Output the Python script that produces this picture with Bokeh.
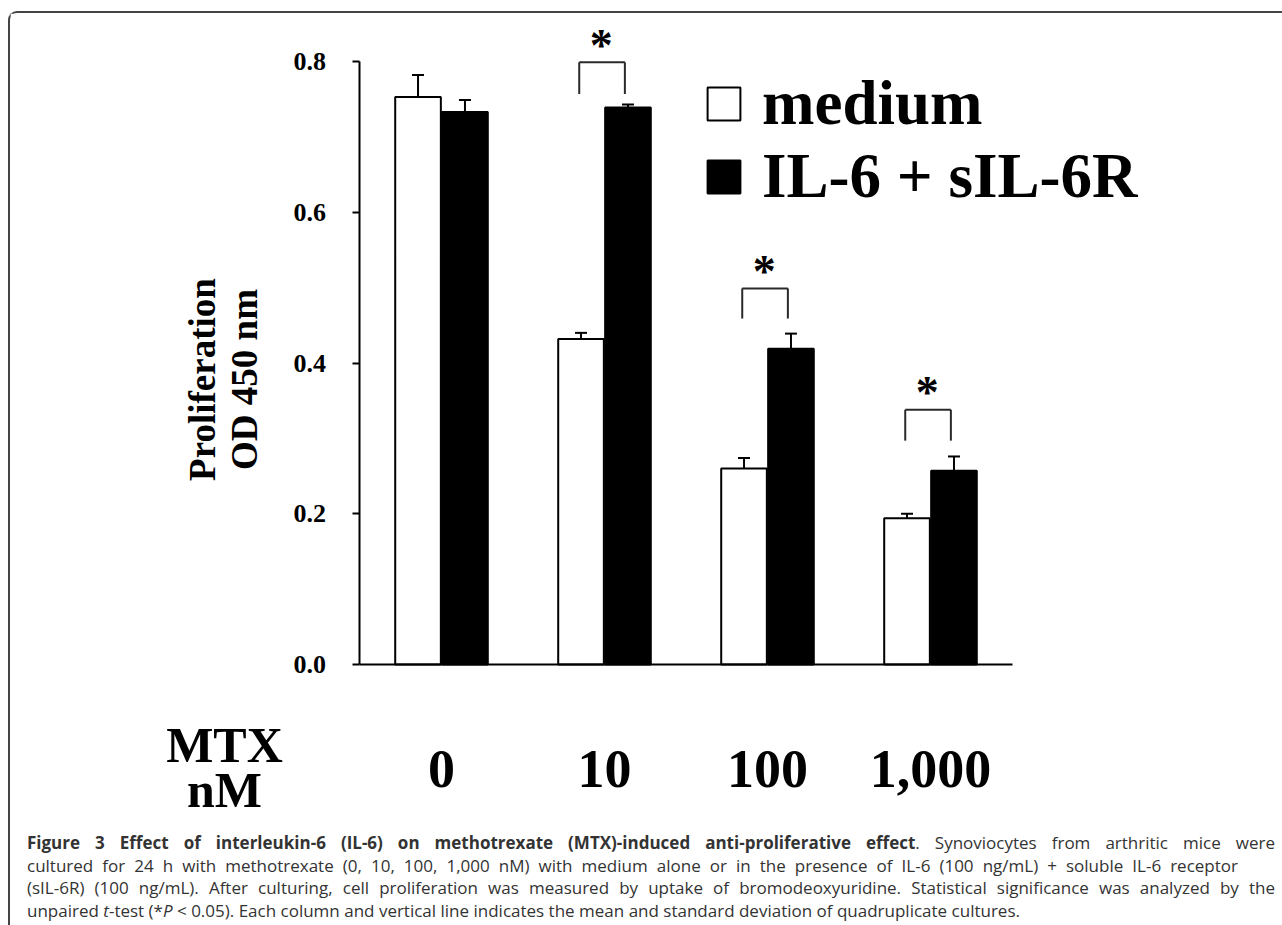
import math
from bokeh.plotting import figure
from bokeh.models import (ColumnDataSource, FactorRange, Range1d, FixedTicker, PrintfTickFormatter,
                          Whisker, TeeHead, Legend, LegendItem, Label, Div, GlobalInlineStyleSheet)
from bokeh.transform import dodge
from bokeh.layouts import column
from bokeh.core.properties import value
from bokeh.embed import file_html
from bokeh.resources import INLINE

# ---------------- data ----------------
categories = ["0", "10", "100", "1,000"]          # MTX concentration (nM)
medium = [0.753, 0.432, 0.260, 0.194]
medium_sd = [0.029, 0.008, 0.014, 0.006]
il6 = [0.733, 0.739, 0.419, 0.257]
il6_sd = [0.016, 0.004, 0.020, 0.019]
series_labels = ["medium", "IL-6 + sIL-6R"]
sig_categories = ["10", "100", "1,000"]
bracket_top = [0.799, 0.499, 0.338]
bracket_bottom = [0.757, 0.459, 0.297]
yticks = [0.0, 0.2, 0.4, 0.6, 0.8]

SERIF = "Liberation Serif"

src = ColumnDataSource(dict(
    cat=categories,
    medium=medium,
    medium_hi=[m + s for m, s in zip(medium, medium_sd)],
    il6=il6,
    il6_hi=[m + s for m, s in zip(il6, il6_sd)],
))
bsrc = ColumnDataSource(dict(cat=sig_categories, top=bracket_top, bottom=bracket_bottom))

p = figure(x_range=FactorRange(*categories, range_padding=1.2546, range_padding_units="absolute"),
           y_range=Range1d(-0.21625, 0.8637),
           width=1272, height=814,
           min_border_left=145, min_border_right=66, min_border_top=0, min_border_bottom=0,
           output_backend="svg", toolbar_location=None)
p.outline_line_color = None
p.xgrid.visible = False
p.ygrid.visible = False
p.background_fill_color = "white"
p.border_fill_color = "white"

half = 0.144
bw = 0.28
r_med = p.vbar(x=dodge("cat", -half, range=p.x_range), top="medium", bottom=0, width=bw,
               fill_color="white", line_color="black", line_width=2, source=src)
r_il6 = p.vbar(x=dodge("cat", half, range=p.x_range), top="il6", bottom=0, width=bw,
               fill_color="black", line_color="black", line_width=2, source=src)

for base, lo, hi in ((-half, "medium", "medium_hi"), (half, "il6", "il6_hi")):
    p.add_layout(Whisker(base=dodge("cat", base, range=p.x_range), lower=lo, upper=hi, source=src,
                         line_color="black", line_width=2, lower_head=None,
                         upper_head=TeeHead(size=12, line_width=2, line_color="black")))

# significance brackets
bl = dodge("cat", -0.155, range=p.x_range)
br = dodge("cat", 0.125, range=p.x_range)
bstyle = dict(line_color="#2a2a2a", line_width=2, source=bsrc)
p.segment(x0=bl, y0="bottom", x1=bl, y1="top", **bstyle)
p.segment(x0=br, y0="bottom", x1=br, y1="top", **bstyle)
p.segment(x0=bl, y0="top", x1=br, y1="top", **bstyle)
p.text(x=dodge("cat", -0.02, range=p.x_range), y="top", text=value("*"), source=bsrc,
       text_font=value(SERIF), text_font_style="bold", text_font_size="46px", y_offset=-17,
       text_align="center", text_baseline="alphabetic", text_color="black")

# y axis, drawn at the left edge of the first category
yax = p.yaxis[0]
yax.fixed_location = 0
yax.bounds = (0, 0.8)
yax.ticker = FixedTicker(ticks=yticks)
yax.formatter = PrintfTickFormatter(format="%.1f")
yax.major_tick_out = 7
yax.major_tick_in = 0
yax.minor_tick_out = 0
yax.minor_tick_in = 0
yax.axis_line_width = 2
yax.major_tick_line_width = 2
yax.major_label_text_font = SERIF
yax.major_label_text_font_style = "bold"
yax.major_label_text_font_size = "26px"
yax.major_label_text_color = "black"
yax.major_label_standoff = 27

# x axis along y = 0, spanning the categories
xax = p.xaxis[0]
xax.fixed_location = 0
xax.bounds = (0, len(categories))
xax.axis_line_width = 2
xax.axis_line_color = "black"
xax.major_tick_line_color = None
xax.major_tick_out = 0
xax.major_tick_in = 0
xax.major_label_text_font = SERIF
xax.major_label_text_font_style = "bold"
xax.major_label_text_font_size = "54px"
xax.major_label_text_color = "black"
xax.major_label_standoff = 86

# y axis title (two lines) and x axis title
ttl = dict(x_units="screen", y_units="screen", text_font=SERIF, text_font_style="bold",
           text_color="black", text_align="center", text_baseline="alphabetic")
p.add_layout(Label(x=47, y=448, angle=math.pi / 2, text="Proliferation", text_font_size="37px", **ttl))
p.add_layout(Label(x=89, y=448, angle=math.pi / 2, text="OD 450 nm", text_font_size="37px", **ttl))
p.add_layout(Label(x=69, y=83, text="MTX", text_font_size="50px", **ttl))
p.add_layout(Label(x=69, y=38, text="nM", text_font_size="50px", **ttl))

legend = Legend(items=[LegendItem(label=series_labels[0], renderers=[r_med]),
                       LegendItem(label=series_labels[1], renderers=[r_il6])],
                location=(548, 614), orientation="vertical", padding=0, margin=0, spacing=0,
                label_standoff=18, glyph_width=41, glyph_height=41,
                label_text_font=SERIF, label_text_font_style="bold", label_text_font_size="63px",
                label_text_color="black", border_line_color=None, background_fill_alpha=0)
p.add_layout(legend)

line_base = "white-space:nowrap;"
just = "text-align:justify;text-align-last:justify;"
caption_html = (
    '<div style="font-family:\'Open Sans\';font-size:17px;line-height:22.5px;color:#333;margin-left:12px;">'
    f'<div style="{line_base}{just}width:1248px;"><b>Figure 3 Effect of interleukin-6 (IL-6) on methotrexate (MTX)-induced '
    'anti-proliferative effect</b>. Synoviocytes from arthritic mice were</div>'
    f'<div style="{line_base}{just}width:1211px;">cultured for 24 h with methotrexate (0, 10, 100, 1,000 nM) with medium alone or in '
    'the presence of IL-6 (100 ng/mL) + soluble IL-6 receptor</div>'
    f'<div style="{line_base}{just}width:1248px;">(sIL-6R) (100 ng/mL). After culturing, cell proliferation was measured by uptake '
    'of bromodeoxyuridine. Statistical significance was analyzed by the</div>'
    f'<div style="{line_base}">unpaired <i>t</i>-test (*<i>P</i> &lt; 0.05). Each column and vertical line indicates '
    'the mean and standard deviation of quadruplicate cultures.</div>'
    '</div>'
)
caption = Div(text=caption_html, width=1272, height=90)

layout = column(p, caption, spacing=0, margin=(11, 0, 0, 8),
                styles={"border-top": "2px solid #444", "border-left": "2px solid #444",
                        "border-top-left-radius": "9px"},
                stylesheets=[GlobalInlineStyleSheet(css="body{overflow:hidden;}")])

open("out.html", "w").write(file_html(layout, INLINE))
